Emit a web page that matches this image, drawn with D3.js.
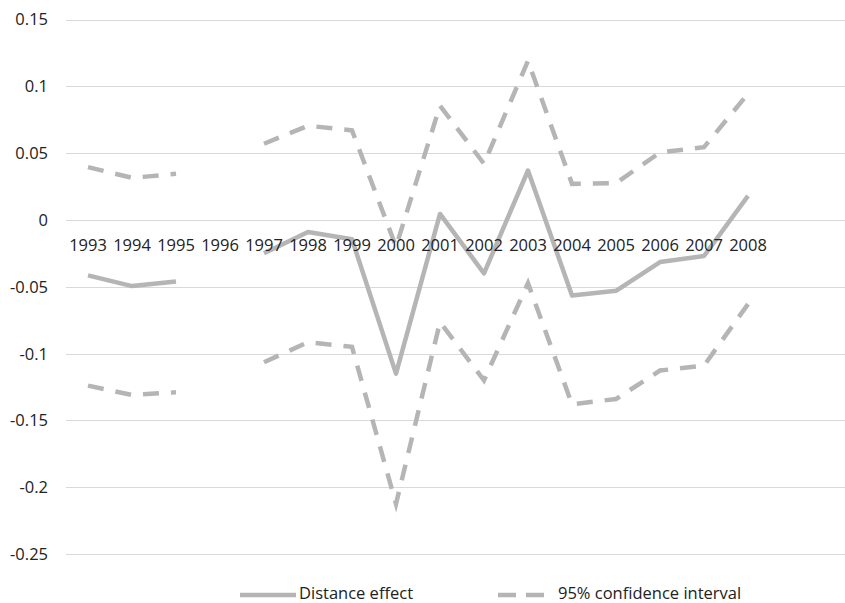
<!DOCTYPE html>
<html>
<head>
<meta charset="utf-8">
<script src="https://cdn.jsdelivr.net/npm/d3@7"></script>
<style>
  body { margin: 0; background: #fff; }
  text { font-family: "Open Sans", sans-serif; font-size: 16.5px; fill: #222; }
</style>
</head>
<body>
<main></main>
<script>
const years = ["1993", "1994", "1995", "1996", "1997", "1998", "1999", "2000",
  "2001", "2002", "2003", "2004", "2005", "2006", "2007", "2008"];

const distanceEffect = [-0.0415, -0.0495, -0.046, null, -0.025, -0.009, -0.0145, -0.115,
  0.0045, -0.040, 0.037, -0.0565, -0.053, -0.0315, -0.027, 0.018];

const upperCI = [0.0395, 0.0315, 0.0345, null, 0.057, 0.0705, 0.067, -0.02,
  0.0855, 0.042, 0.119, 0.027, 0.0275, 0.0505, 0.0545, 0.0945];

const lowerCI = [-0.124, -0.131, -0.129, null, -0.1065, -0.0915, -0.095, -0.2125,
  -0.0765, -0.120, -0.0473, -0.138, -0.134, -0.1127, -0.109, -0.063];

const yTicks = [0.15, 0.1, 0.05, 0, -0.05, -0.1, -0.15, -0.2, -0.25];

const w = 845;
const h = 603;
const lineColor = "#b5b5b5";

const svg = d3.select("main")
  .append("svg")
  .attr("width", w)
  .attr("height", h);

const x = d3.scalePoint()
  .domain(years)
  .range([66, 770])
  .padding(0.5);

const y = d3.scaleLinear()
  .domain([-0.25, 0.15])
  .range([554, 19.5]);

// gridlines
svg.append("g")
  .selectAll("line")
  .data(yTicks)
  .enter()
  .append("line")
  .attr("x1", 66)
  .attr("x2", w)
  .attr("y1", d => Math.round(y(d)) + 0.5)
  .attr("y2", d => Math.round(y(d)) + 0.5)
  .attr("stroke", "#d9d9d9")
  .attr("stroke-width", 1.2);

// y tick labels
svg.append("g")
  .selectAll("text")
  .data(yTicks)
  .enter()
  .append("text")
  .attr("x", 48)
  .attr("y", d => y(d))
  .attr("dy", "0.36em")
  .attr("text-anchor", "end")
  .text(d => d);

const line = d3.line()
  .defined(d => d != null)
  .x((d, i) => x(years[i]))
  .y(d => y(d));

svg.append("path")
  .attr("d", line(upperCI))
  .attr("fill", "none")
  .attr("stroke", lineColor)
  .attr("stroke-width", 4.5)
  .attr("stroke-dasharray", "16 12");

svg.append("path")
  .attr("d", line(lowerCI))
  .attr("fill", "none")
  .attr("stroke", lineColor)
  .attr("stroke-width", 4.5)
  .attr("stroke-dasharray", "16 12");

svg.append("path")
  .attr("d", line(distanceEffect))
  .attr("fill", "none")
  .attr("stroke", lineColor)
  .attr("stroke-width", 4.5)
  .attr("stroke-linejoin", "round");

// category labels sit just under the zero line
svg.append("g")
  .selectAll("text")
  .data(years)
  .enter()
  .append("text")
  .attr("x", d => x(d))
  .attr("y", y(0) + 31)
  .attr("text-anchor", "middle")
  .text(d => d);

// legend
const legend = svg.append("g");
legend.append("line")
  .attr("x1", 240).attr("x2", 296)
  .attr("y1", 595).attr("y2", 595)
  .attr("stroke", lineColor)
  .attr("stroke-width", 4.5);
legend.append("text")
  .attr("x", 299)
  .attr("y", 599)
  .text("Distance effect");
legend.append("line")
  .attr("x1", 498).attr("x2", 545)
  .attr("y1", 595).attr("y2", 595)
  .attr("stroke", lineColor)
  .attr("stroke-width", 4.5)
  .attr("stroke-dasharray", "18 10");
legend.append("text")
  .attr("x", 558)
  .attr("y", 599)
  .text("95% confidence interval");
</script>
</body>
</html>
